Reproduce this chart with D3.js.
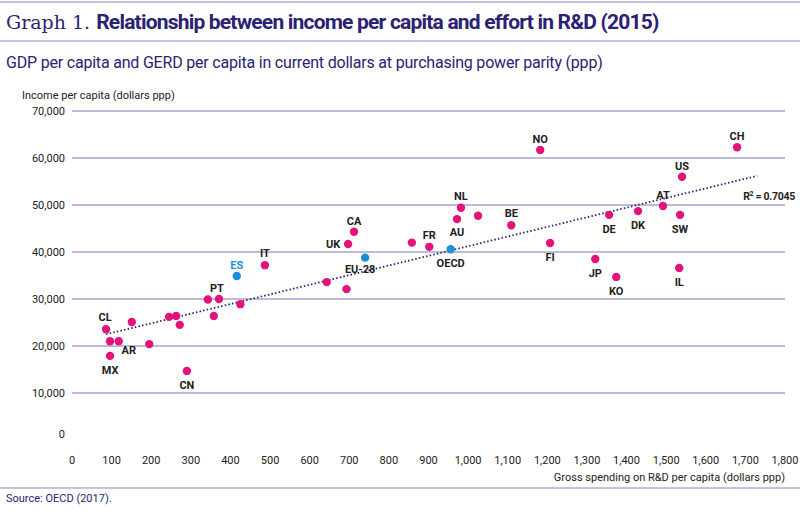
<!DOCTYPE html>
<html><head><meta charset="utf-8">
<script src="https://cdn.jsdelivr.net/npm/d3@7"></script>
<style>body{margin:0;background:#fff;font-family:Roboto,"Liberation Sans",sans-serif}</style>
</head><body><div id="chart"></div>
<script>
// ---- DATA ----
var codes = ["CL","","","MX","","","","","","CN","","PT","","","ES","IT","","","EU-28","UK","","FR","OECD",
             "CA","NL","AU","","BE","NO","FI","DE","JP","KO","DK","AT","SW","IL","US","CH"];
var gerd = [86,96,118,96,151,195,245,263,272,290,343,371,358,425,416,487,643,693,740,697,858,902,956,
            712,982,972,1025,1109,1182,1207,1356,1321,1374,1429,1492,1535,1533,1540,1679];
var gdp = [23550,21000,21000,17900,25100,20400,26200,26400,24500,14700,29900,30000,26400,28900,34900,37200,33600,32100,38800,41700,42000,41100,40600,
           44300,49400,47000,47700,45700,61700,41900,47900,38500,34700,48700,49800,47900,36600,56000,62300];
var highlighted = ["ES","EU-28","OECD"];
var trendX = [86, 1730];
var trendY = [22500, 56200];
var xTicks = d3.range(0, 1801, 100);
var yTicks = d3.range(0, 70001, 10000);

// label offsets (px) relative to point
var labelPos = {"CL":[-1,-8],"AR":[10,13],"MX":[0,18],"CN":[0,18],"PT":[-2,-7],"ES":[0,-7],"IT":[0,-8],
  "UK":[-15,4],"CA":[0,-7],"EU-28":[-5,15],"OECD":[0,18],"FR":[0,-8],"AU":[0,17],"NL":[0,-8],"BE":[0,-8],
  "NO":[0,-7],"FI":[0,18],"DE":[0,18],"JP":[0,18],"KO":[0,18],"DK":[0,18],"AT":[0,-7],"SW":[0,18],"IL":[0,18],"US":[0,-7],"CH":[0,-7]};

var W = 800, H = 518, navy = "#2b2272", grid = "#7e77b8";
var svg = d3.select("#chart").append("svg").attr("width", W).attr("height", H);

// rules
[2, 41, 488].forEach(function(y){
  svg.append("line").attr("x1",0).attr("x2",W).attr("y1",y).attr("y2",y)
    .attr("stroke","#b3aed6").attr("stroke-width",1.5);
});

// titles
var t = svg.append("text").attr("x",6).attr("y",29).attr("fill",navy).style("font-size","21px");
t.append("tspan").text("Graph 1. ").style("font-family","'DejaVu Serif',serif").style("font-weight","300").style("font-size","19px");
t.append("tspan").text("Relationship between income per capita and effort in R&D (2015)").style("font-weight","bold").style("letter-spacing","-0.8px");
svg.append("text").attr("x",6).attr("y",68).attr("fill",navy).style("font-size","16px")
  .style("letter-spacing","-0.2px").text("GDP per capita and GERD per capita in current dollars at purchasing power parity (ppp)");
svg.append("text").attr("x",22).attr("y",99).style("font-size","11px").attr("fill","#222").text("Income per capita (dollars ppp)");

// scales
var x = d3.scaleLinear().domain([0,1800]).range([72,785]);
var y = d3.scaleLinear().domain([0,70000]).range([440,111]);

// grid + labels
svg.selectAll(".grid").data(yTicks.filter(function(d){return d>0})).enter().append("line")
  .attr("x1",72).attr("x2",785).attr("y1",function(d){return y(d)}).attr("y2",function(d){return y(d)})
  .attr("stroke",grid).attr("stroke-width",1.2);
svg.selectAll(".ylab").data(yTicks).enter().append("text")
  .attr("x",65).attr("y",function(d){return y(d)+(d==0?-2:4)}).attr("text-anchor","end")
  .style("font-size","11px").attr("fill","#222").text(function(d){return d3.format(",")(d)});
svg.selectAll(".xlab").data(xTicks).enter().append("text")
  .attr("x",function(d){return x(d)}).attr("y",464).attr("text-anchor","middle")
  .style("font-size","11px").attr("fill","#222").text(function(d){return d3.format(",")(d)});
svg.append("text").attr("x",785).attr("y",481).attr("text-anchor","end").style("font-size","11px")
  .attr("fill","#222").text("Gross spending on R&D per capita (dollars ppp)");

// trend line
svg.append("line").attr("x1",x(trendX[0])).attr("y1",y(trendY[0])).attr("x2",x(trendX[1])).attr("y2",y(trendY[1]))
  .attr("stroke",navy).attr("stroke-width",1.8).attr("stroke-dasharray","1.5,2.2");
var r2 = svg.append("text").attr("x",795).attr("y",200).attr("text-anchor","end")
  .style("font-size","10.5px").style("font-weight","bold").style("letter-spacing","-0.3px").attr("fill","#222");
r2.append("tspan").text("R");
r2.append("tspan").text("2").attr("dy",-4).style("font-size","7px");
r2.append("tspan").text(" = 0.7045").attr("dy",4);

// points
var pts = codes.map(function(c,i){return {code:c, x:gerd[i], y:gdp[i]}});
svg.selectAll(".pt").data(pts).enter().append("circle")
  .attr("cx",function(d){return x(d.x)}).attr("cy",function(d){return y(d.y)}).attr("r",4.2)
  .attr("fill",function(d){return highlighted.indexOf(d.code)>=0 ? "#1b8fd8" : "#e2147c"});

// labels ("AR" is attached to the third point)
pts[2].code2 = "AR";
svg.selectAll(".lab").data(pts.filter(function(d){return d.code || d.code2})).enter().append("text")
  .attr("x",function(d){var k=d.code||d.code2; return x(d.x)+labelPos[k][0]})
  .attr("y",function(d){var k=d.code||d.code2; return y(d.y)+labelPos[k][1]})
  .attr("text-anchor","middle").style("font-size","11px").style("font-weight","bold")
  .attr("fill",function(d){return d.code=="ES" ? "#1b8fd8" : "#222"})
  .text(function(d){return d.code||d.code2});

svg.append("text").attr("x",6).attr("y",502).attr("fill",navy).style("font-size","11px").text("Source: OECD (2017).");
</script></body></html>
